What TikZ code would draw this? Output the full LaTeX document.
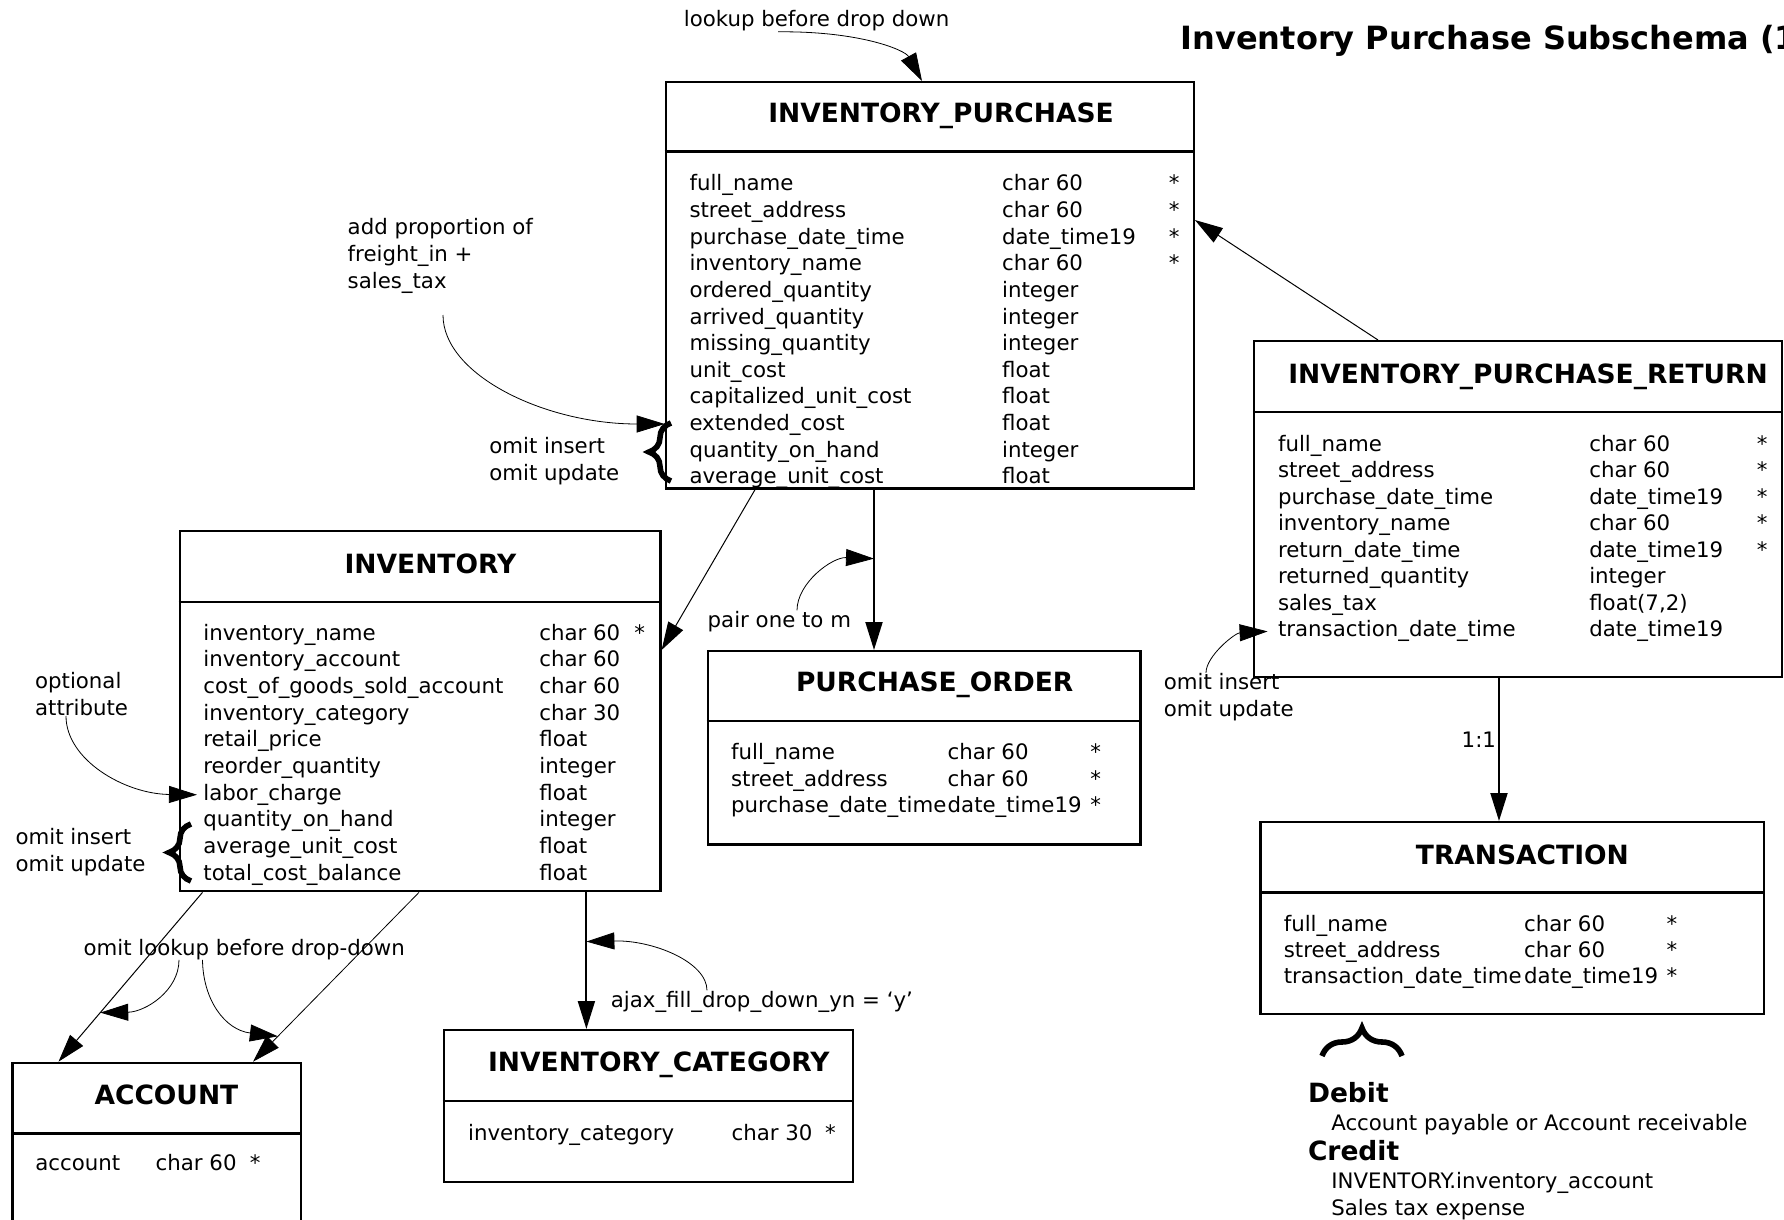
\documentclass[tikz, border = 0pt]{standalone}
\usepackage{fontspec}
\setmainfont{DejaVu Sans}
\usetikzlibrary{arrows.meta, decorations.pathreplacing}

\tikzset{
  entity/.style = {draw, line width = 1.2pt, inner sep = 0pt, anchor = north west},
  hdrline/.style = {line width = 1.2pt},
  ttl/.style = {font = \bfseries\fontsize{13.25}{16}\selectfont, inner sep = 0pt, anchor = base},
  field/.style = {font = \fontsize{10.65}{13.3}\selectfont, inner sep = 0pt, anchor = base west},
  pkmark/.style = {field, anchor = base},
  note/.style = {field, align = left},
  link/.style = {line width = 1pt, -{Triangle[length = 14pt, width = 8.5pt]}},
  thinlink/.style = {link, line width = 0.5pt},
  notelink/.style = {link, line width = 0.4pt},
  bracket/.style = {decorate, decoration = {brace, amplitude = 11pt}, line width = 2.8pt}
}

\begin{document}
\begin{tikzpicture}[x = 0.5pt, y = -0.5pt]

  \useasboundingbox (0, 0) rectangle (1784, 1220);

  \node[font = \bfseries\fontsize{16}{19}\selectfont, inner sep = 0pt, anchor = base west]
    (heading) at (1180.3, 49.3) {Inventory Purchase Subschema (1};

  \node[entity, minimum width = 263.9pt, minimum height = 203.15pt] (ip) at (664.7, 81) {};
  \draw[hdrline] (ip.west |- 0, 151.7) -- (ip.east |- 0, 151.7);
  \node[ttl] (ip-title) at (941, 122.7) {INVENTORY\_PURCHASE};
  \foreach \fn/\ty [count = \i from 0] in {full\_name/char 60, street\_address/char 60,
      purchase\_date\_time/date\_time19, inventory\_name/char 60, ordered\_quantity/integer,
      arrived\_quantity/integer, missing\_quantity/integer, unit\_cost/float,
      capitalized\_unit\_cost/float, extended\_cost/float, quantity\_on\_hand/integer,
      average\_unit\_cost/float}
  {
    \node[field] (ip-n\i) at (689.1, 191 + 26.6 * \i) {\fn};
    \node[field] (ip-t\i) at (1001.7, 191 + 26.6 * \i) {\ty};
  }
  \foreach \i in {0, ..., 3}
    \node[pkmark] (ip-s\i) at (1174.3, 191 + 26.6 * \i) {*};

  \node[entity, minimum width = 240.25pt, minimum height = 180pt] (inv) at (178.7, 530) {};
  \draw[hdrline] (inv.west |- 0, 601.7) -- (inv.east |- 0, 601.7);
  \node[ttl] (inv-title) at (430.4, 573) {INVENTORY};
  \foreach \fn/\ty [count = \i from 0] in {inventory\_name/char 60, inventory\_account/char 60,
      cost\_of\_goods\_sold\_account/char 60, inventory\_category/char 30, retail\_price/float,
      reorder\_quantity/integer, labor\_charge/float, quantity\_on\_hand/integer,
      average\_unit\_cost/float, total\_cost\_balance/float}
  {
    \node[field] (inv-n\i) at (203, 640.3 + 26.67 * \i) {\fn};
    \node[field] (inv-t\i) at (539, 640.3 + 26.67 * \i) {\ty};
  }
  \node[pkmark] (inv-s0) at (639.7, 640.3) {*};

  \node[entity, minimum width = 216.3pt, minimum height = 96.65pt] (po) at (706.7, 650) {};
  \draw[hdrline] (po.west |- 0, 720.7) -- (po.east |- 0, 720.7);
  \node[ttl] (po-title) at (934.7, 691.4) {PURCHASE\_ORDER};
  \foreach \fn/\ty [count = \i from 0] in {full\_name/char 60, street\_address/char 60,
      purchase\_date\_time/date\_time19}
  {
    \node[field] (po-n\i) at (730.7, 759.7 + 26.6 * \i) {\fn};
    \node[field] (po-t\i) at (947.3, 759.7 + 26.6 * \i) {\ty};
    \node[pkmark] (po-s\i) at (1095.7, 759.7 + 26.6 * \i) {*};
  }

  \node[entity, minimum width = 263.9pt, minimum height = 168pt] (ipr) at (1252.9, 340) {};
  \draw[hdrline] (ipr.west |- 0, 411.7) -- (ipr.east |- 0, 411.7);
  \node[ttl] (ipr-title) at (1528, 383) {INVENTORY\_PURCHASE\_RETURN};
  \foreach \fn/\ty [count = \i from 0] in {full\_name/char 60, street\_address/char 60,
      purchase\_date\_time/date\_time19, inventory\_name/char 60, return\_date\_time/date\_time19,
      returned\_quantity/integer, sales\_tax/{float(7,2)}, transaction\_date\_time/date\_time19}
  {
    \node[field] (ipr-n\i) at (1277.6, 451 + 26.57 * \i) {\fn};
    \node[field] (ipr-t\i) at (1588.9, 451 + 26.57 * \i) {\ty};
  }
  \foreach \i in {0, ..., 4}
    \node[pkmark] (ipr-s\i) at (1762.2, 451 + 26.57 * \i) {*};

  \node[entity, minimum width = 251.85pt, minimum height = 95.85pt] (trans) at (1259.1, 821) {};
  \draw[hdrline] (trans.west |- 0, 892.3) -- (trans.east |- 0, 892.3);
  \node[ttl] (trans-title) at (1522.4, 864.7) {TRANSACTION};
  \foreach \fn/\ty [count = \i from 0] in {full\_name/char 60, street\_address/char 60,
      transaction\_date\_time/date\_time19}
  {
    \node[field] (trans-n\i) at (1283.4, 931 + 26 * \i) {\fn};
    \node[field] (trans-t\i) at (1523.8, 931 + 26 * \i) {\ty};
    \node[pkmark] (trans-s\i) at (1671.9, 931 + 26 * \i) {*};
  }

  \node[entity, minimum width = 144.25pt, minimum height = 89.15pt] (acc) at (11.1, 1061.7) {};
  \draw[hdrline] (acc.west |- 0, 1133.3) -- (acc.east |- 0, 1133.3);
  \node[ttl] (acc-title) at (166.4, 1104.7) {ACCOUNT};
  \node[field] (acc-n0) at (35, 1170) {account};
  \node[field] (acc-t0) at (155.3, 1170) {char 60};
  \node[pkmark] (acc-s0) at (255.2, 1170) {*};

  \node[entity, minimum width = 204.45pt, minimum height = 76pt] (ic) at (442.7, 1029) {};
  \draw[hdrline] (ic.west |- 0, 1100.7) -- (ic.east |- 0, 1100.7);
  \node[ttl] (ic-title) at (658.8, 1071.4) {INVENTORY\_CATEGORY};
  \node[field] (ic-n0) at (467.7, 1140) {inventory\_category};
  \node[field] (ic-t0) at (731.2, 1140) {char 30};
  \node[pkmark] (ic-s0) at (830.5, 1140) {*};

  \draw[thinlink] (ipr.north -| 1378, 0) -- (ip.east |- 0, 220);
  \draw[link] (ip.south -| 874, 0) -- coordinate[pos = 0.43] (ippo-mid) (po.north -| 874, 0);
  \draw[thinlink] (ip.south -| 755, 0) -- (inv.east |- 0, 650);
  \draw[link] (inv.south -| 586.4, 0) -- coordinate[pos = 0.36] (invic-mid) (ic.north -| 586.4, 0);
  \draw[thinlink] (inv.south -| 202.5, 0) -- coordinate[pos = 0.71] (invacc-a) (acc.north -| 58.5, 0);
  \draw[thinlink, line width = 0.4pt] (inv.south -| 419, 0) -- coordinate[pos = 0.85] (invacc-b)
    (acc.north -| 253, 0);
  \draw[link] (ipr.south -| 1499, 0) -- node[field, pos = 0.43, anchor = east, inner sep = 1pt]
    (oneone) {1:1} (trans.north -| 1499, 0);

  \node[note] (lookup) at (683.5, 27) {lookup before drop down};
  \node[note] (addprop) at (347.3, 288) {add proportion of\\freight\_in +\\sales\_tax};
  \node[note] (omitip) at (489, 480) {omit insert\\omit update};
  \node[note] (optattr) at (34.7, 715.3) {optional\\attribute};
  \node[note] (omitinv) at (15.2, 871.5) {omit insert\\omit update};
  \node[note] (omitlk) at (83.2, 955) {omit lookup before drop-down};
  \node[note] (ajax) at (610.5, 1007) {ajax\_fill\_drop\_down\_yn = ‘y’};
  \node[note] (pair) at (707.3, 627) {pair one to m};
  \node[note] (omitret) at (1163.5, 716) {omit insert\\omit update};

  \draw[bracket] (671, 481) -- (671, 423);
  \draw[bracket] (191, 881) -- (191, 824);
  \draw[bracket, decoration = {amplitude = 14pt}] (1322, 1056) -- (1402, 1056);

  \coordinate (apfoot) at (443, 315);
  \draw[notelink] (lookup.south -| 778, 0) .. controls (860, 31) and (905, 50) .. (ip.north -| 922, 0);
  \draw[notelink] (apfoot) .. controls (443, 375) and (545, 424) .. (ip.west |- 0, 424);
  \draw[notelink] (optattr.south -| 66, 0) .. controls (66, 760) and (125, 794) .. ([xshift = -3pt]inv-n6.west);
  \draw[notelink] (pair.north -| 797, 0) .. controls (797, 583) and (832, 557) .. (ippo-mid);
  \draw[notelink] (ajax.north -| 707, 0) .. controls (707, 962) and (653, 940) .. (invic-mid);
  \draw[notelink] (omitlk.south -| 179, 0) .. controls (179, 991) and (145, 1012) .. (invacc-a);
  \draw[notelink] (omitlk.south -| 202.5, 0) .. controls (203, 1000) and (225, 1030) .. (invacc-b);
  \draw[notelink] (omitret.north -| 1206, 0) .. controls (1206, 656) and (1235, 633) .. ([xshift = -5pt]ipr-n7.west);

  \node[ttl, anchor = base west] (debit) at (1307.6, 1102) {Debit};
  \node[field] (debit-acc) at (1330.9, 1130) {Account payable or Account receivable};
  \node[ttl, anchor = base west] (credit) at (1307.6, 1160) {Credit};
  \node[field] (credit-inv) at (1330.9, 1188.3) {INVENTORY.inventory\_account};
  \node[field] (credit-tax) at (1330.9, 1215) {Sales tax expense};

\end{tikzpicture}
\end{document}
